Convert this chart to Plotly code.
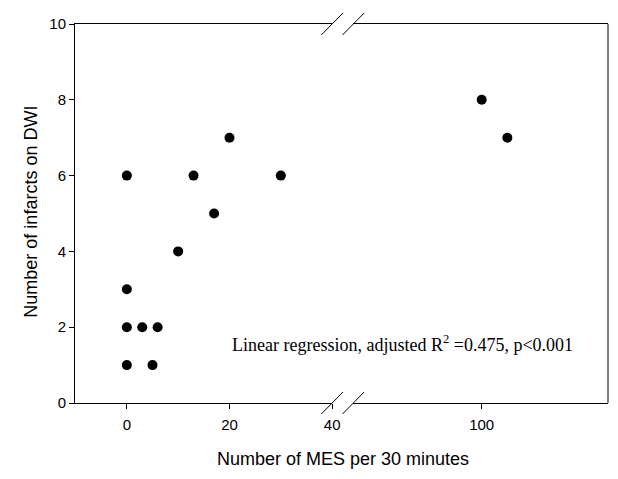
import plotly.graph_objects as go

# Data
mes_low = [0, 0, 0, 3, 6, 0, 5, 10, 13, 17, 20, 30]
infarcts_low = [6, 3, 2, 2, 2, 1, 1, 4, 6, 5, 7, 6]
mes_high = [100, 105]
infarcts_high = [8, 7]

x_ticks_low = [0, 20, 40]
x_ticks_high = [100]
y_ticks = [0, 2, 4, 6, 8, 10]

W, H = 618, 479
ML, MR, MT, MB = 75, 2, 24, 76
pw = W - ML - MR
ph = H - MT - MB

d_end = (336 - ML) / pw
d_start = (357.5 - ML) / pw

fig = go.Figure()
marker = dict(color="black", size=10, line=dict(width=0))
fig.add_trace(go.Scatter(x=mes_low, y=infarcts_low, mode="markers",
                         marker=marker, xaxis="x", yaxis="y",
                         showlegend=False, cliponaxis=False))
fig.add_trace(go.Scatter(x=mes_high, y=infarcts_high, mode="markers",
                         marker=marker, xaxis="x2", yaxis="y",
                         showlegend=False, cliponaxis=False))

tickfont = dict(family="Liberation Sans, Arial, sans-serif", size=15, color="black")
axis_common = dict(showgrid=False, zeroline=False, showline=True,
                   linecolor="black", linewidth=1, ticks="outside",
                   ticklen=5, tickcolor="black", tickfont=tickfont,
                   mirror=True)

fig.update_layout(
    width=W, height=H,
    margin=dict(l=ML, r=MR, t=MT, b=MB, pad=0),
    paper_bgcolor="white", plot_bgcolor="white",
    xaxis=dict(domain=[0, d_end], range=[-10.1, 40], tickvals=x_ticks_low,
               anchor="y", ticklabelstandoff=3, **axis_common),
    xaxis2=dict(domain=[d_start, 1], range=[75, 124.6], tickvals=x_ticks_high,
                anchor="y", ticklabelstandoff=3, **axis_common),
    yaxis=dict(domain=[0, 1], range=[0, 10], tickvals=y_ticks,
               anchor="x", ticklabelstandoff=0,
               **{k: v for k, v in axis_common.items() if k != "mirror"}),
)

# right border
fig.add_shape(type="line", xref="paper", yref="paper", x0=1, x1=1, y0=0, y1=1,
              line=dict(color="black", width=1))

# axis break slashes
dx = 11 / pw
dy = 11 / ph
for xc in (d_end, d_start):
    for yc in (0, 1):
        fig.add_shape(type="line", xref="paper", yref="paper",
                      x0=xc - dx, x1=xc + dx, y0=yc - dy, y1=yc + dy,
                      line=dict(color="black", width=1))

# axis titles
fig.add_annotation(text="Number of MES per 30 minutes", xref="paper", yref="paper",
                   x=(347 - ML) / pw, y=-(459 - (MT + ph)) / ph, showarrow=False,
                   font=dict(family="Liberation Sans, Arial, sans-serif", size=18, color="black"),
                   xanchor="center", yanchor="middle")
fig.add_annotation(text="Number of infarcts on DWI", xref="paper", yref="paper",
                   x=-(ML - 30) / pw, y=(MT + ph - 212) / ph, showarrow=False, textangle=-90,
                   font=dict(family="Liberation Sans, Arial, sans-serif", size=18, color="black"),
                   xanchor="center", yanchor="middle")

# regression note
fig.add_annotation(text="Linear regression, adjusted R<sup>2</sup> =0.475, p<0.001",
                   xref="paper", yref="paper",
                   x=(407 - ML) / pw, y=(MT + ph - 343) / ph, showarrow=False,
                   font=dict(family="Liberation Serif, Times New Roman, serif", size=18, color="black"),
                   xanchor="center", yanchor="middle")

fig.write_html("out.html", config={"displayModeBar": False},
               post_script="document.body.style.margin='0';document.body.style.overflow='hidden';")
